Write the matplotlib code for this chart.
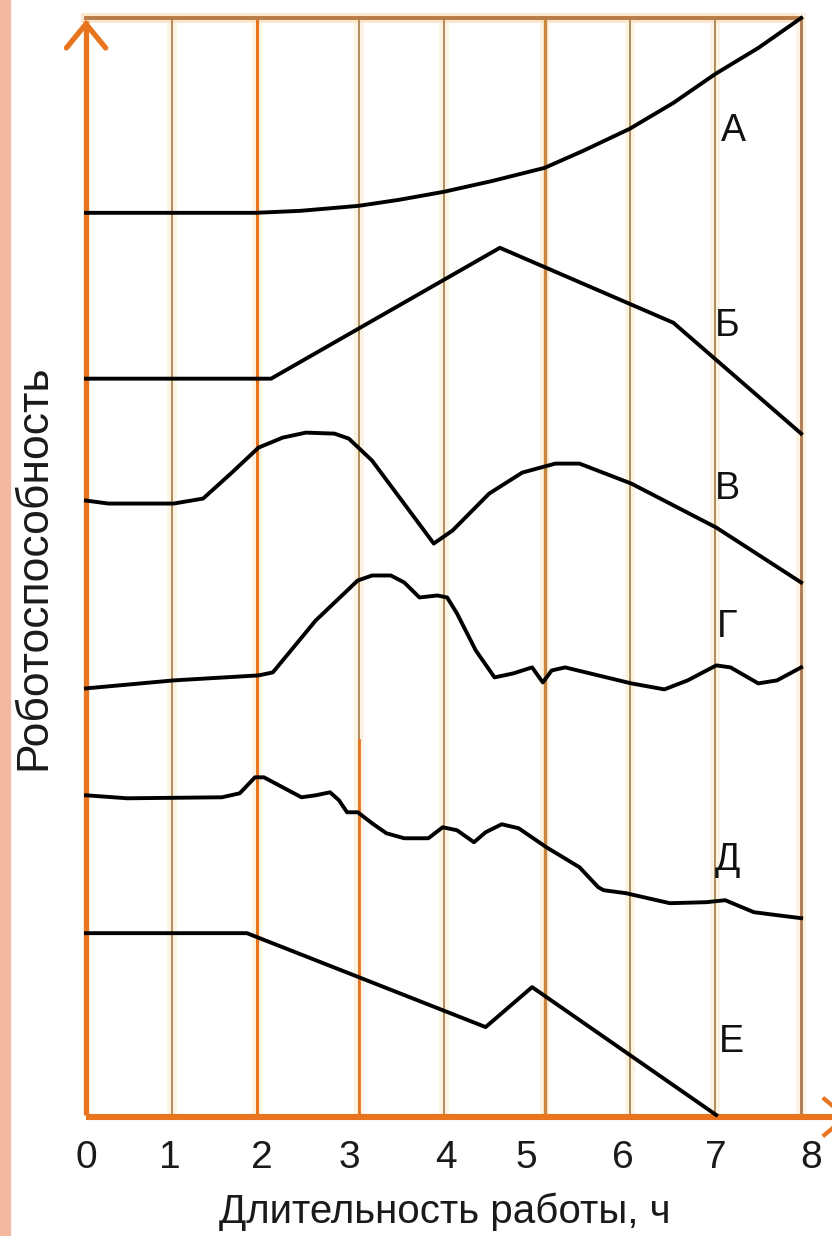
import matplotlib
matplotlib.use("Agg")
import matplotlib.pyplot as plt

# ---- data (hours, relative work capacity) ----
x_A = [0, 1.9, 2.4, 3.05, 3.5, 4.0, 4.55, 5.13, 5.56, 6.08, 6.57, 7.04, 7.52, 8.0]
y_A = [9.03, 9.03, 9.05, 9.1, 9.16, 9.24, 9.35, 9.48, 9.65, 9.87, 10.13, 10.42, 10.68, 10.98]

x_B = [0, 2.07, 4.63, 6.57, 8.0]
y_B = [7.37, 7.37, 8.68, 7.93, 6.82]

x_V = [0, 0.25, 0.98, 1.31, 1.62, 1.93, 2.20, 2.46, 2.78, 2.94, 3.20, 3.89, 4.10,
       4.51, 4.88, 5.25, 5.52, 6.10, 7.05, 8.0]
y_V = [6.15, 6.12, 6.12, 6.17, 6.42, 6.68, 6.78, 6.83, 6.82, 6.77, 6.55, 5.72, 5.85,
       6.22, 6.43, 6.52, 6.52, 6.32, 5.88, 5.33]

x_G = [0, 0.98, 1.93, 2.09, 2.57, 3.04, 3.20, 3.41, 3.56, 3.73, 3.93, 4.04, 4.15,
       4.36, 4.57, 4.78, 4.99, 5.11, 5.21, 5.36, 5.73, 6.10, 6.47, 6.73, 7.05,
       7.21, 7.52, 7.73, 8.0]
y_G = [4.27, 4.35, 4.40, 4.43, 4.95, 5.35, 5.40, 5.40, 5.33, 5.18, 5.20, 5.18, 5.02,
       4.65, 4.38, 4.42, 4.48, 4.33, 4.45, 4.48, 4.40, 4.32, 4.26, 4.35, 4.50,
       4.48, 4.32, 4.35, 4.48]

x_D = [0, 0.46, 1.52, 1.72, 1.89, 1.99, 2.20, 2.41, 2.57, 2.73, 2.83, 2.92, 3.04,
       3.20, 3.36, 3.56, 3.83, 3.99, 4.15, 4.34, 4.47, 4.65, 4.84, 5.15, 5.52,
       5.73, 5.79, 6.04, 6.53, 6.94, 7.15, 7.47, 7.73, 8.0]
y_D = [3.20, 3.17, 3.18, 3.22, 3.38, 3.38, 3.28, 3.18, 3.20, 3.23, 3.15, 3.03, 3.03,
       2.92, 2.82, 2.77, 2.77, 2.88, 2.85, 2.73, 2.83, 2.91, 2.87, 2.68, 2.48,
       2.28, 2.25, 2.22, 2.12, 2.13, 2.15, 2.03, 2.00, 1.97]

x_E = [0, 1.80, 4.47, 4.99, 7.05]
y_E = [1.82, 1.82, 0.88, 1.28, 0.0]

curve_names = ["А", "Б", "В", "Г", "Д", "Е"]
tick_labels = ["0", "1", "2", "3", "4", "5", "6", "7", "8"]
tick_label_pos = [0, 0.94, 1.97, 2.95, 4.03, 4.93, 6.01, 7.04, 8.11]
grid_pos = [0.96, 1.91, 3.05, 4.01, 5.13, 6.08, 7.04]
xlabel = "Длительность работы, ч"
ylabel = "Роботоспособность"

# ---- figure ----
W, H = 832, 1236
fig = plt.figure(figsize=(W / 100, H / 100), dpi=100)
fig.patch.set_facecolor("white")

# left salmon strip
fig.add_artist(plt.Rectangle((0, 0), 10 / W, 1, transform=fig.transFigure,
                             color="#f4b8a0", zorder=0))

ax = fig.add_axes([86 / W, (H - 1115) / H, (811 - 86) / W, (1115 - 18) / H])
ax.set_xlim(0, 8)
ax.set_ylim(0, 10.98)
ax.set_facecolor("white")
for s in ax.spines.values():
    s.set_visible(False)

ORANGE = "#e8741e"
BROWN = "#a88552"
BROWN_O = "#c8873c"
HALO = "#fdf3e2"

# vertical grid lines
grid_styles = [
    (BROWN, 1.3), (ORANGE, 2.2), (BROWN, 1.3), (BROWN, 1.3),
    (BROWN_O, 2.4), (BROWN, 1.3), (BROWN, 1.3),
]
for gx, (c, lw) in zip(grid_pos, grid_styles):
    ax.axvline(gx, color=HALO, lw=7, zorder=1)
    ax.axvline(gx, color=c, lw=lw, zorder=2)
# orange lower part of the line at 3 h
ax.plot([grid_pos[2], grid_pos[2]], [0, 3.75], color=ORANGE, lw=2.0, zorder=2)

# frame: top and right
ax.plot([0, 8], [10.98, 10.98], color="#fbe6cc", lw=7, clip_on=False, zorder=1)
ax.plot([0, 8], [10.98, 10.98], color="#b87c46", lw=2.8, clip_on=False, zorder=3)
ax.plot([8, 8], [0, 10.98], color=HALO, lw=7, clip_on=False, zorder=1)
ax.plot([8, 8], [0, 10.98], color="#ad7850", lw=2.0, clip_on=False, zorder=3)

# curves
curves = [(x_A, y_A), (x_B, y_B), (x_V, y_V), (x_G, y_G), (x_D, y_D), (x_E, y_E)]
for cx, cy in curves:
    ax.plot(cx, cy, color="black", lw=2.8, solid_joinstyle="round",
            clip_on=False, zorder=5)

# curve labels
label_xy = [(7.24, 9.85), (7.17, 7.9), (7.17, 6.27), (7.17, 4.88), (7.17, 2.55),
            (7.22, 0.73)]
for name, (lx, ly) in zip(curve_names, label_xy):
    ax.text(lx, ly, name, fontsize=27, family=["Liberation Sans", "DejaVu Sans"],
            ha="center", va="center", color="#111111", zorder=6)

# axes: orange arrows
ax.plot([0, 0], [0, 10.95], color=ORANGE, lw=3.8, clip_on=False, zorder=4,
        solid_capstyle="butt")
ax.plot([-0.22, 0, 0.22], [10.68, 10.92, 10.68], color=ORANGE, lw=3.8,
        clip_on=False, zorder=4, solid_capstyle="round", solid_joinstyle="miter")
ax.plot([0, 8.4], [-0.02, -0.02], color=ORANGE, lw=4.4, clip_on=False, zorder=4,
        solid_capstyle="butt")
ax.plot([8.26, 8.5, 8.26], [0.16, -0.02, -0.2], color=ORANGE, lw=3.0,
        clip_on=False, zorder=4)

# ticks
ax.set_xticks(tick_label_pos, tick_labels)
ax.set_yticks([])
ax.tick_params(axis="x", length=0, pad=18, labelsize=28)
for t in ax.get_xticklabels():
    t.set_family(["Liberation Sans", "DejaVu Sans"])
    t.set_color("#1a1a1a")

fig.text(445 / W, 1 - 1212 / H, xlabel, fontsize=29,
         family=["Liberation Sans", "DejaVu Sans"],
         ha="center", va="center", color="#1a1a1a")
fig.text(34 / W, 1 - 567 / H, ylabel, fontsize=32, rotation=90,
         family=["Liberation Sans", "DejaVu Sans"],
         ha="center", va="center", color="#1a1a1a")

fig.savefig("out.png", dpi=100, facecolor=fig.get_facecolor())
